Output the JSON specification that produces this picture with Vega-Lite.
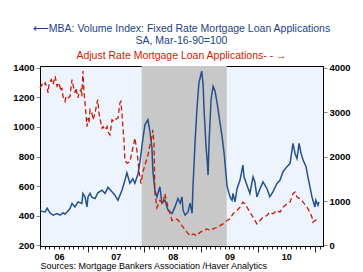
{
 "$schema": "https://vega.github.io/schema/vega-lite/v6.json",
 "width": 283,
 "height": 180,
 "autosize": {"type": "none"},
 "padding": {"left": 40, "top": 66, "right": 40, "bottom": 26},
 "background": "white",
 "config": {"view": {"fill": "#eef4fd", "stroke": "black", "strokeWidth": 1}, "font": "Liberation Sans"},
 "title": {
  "text": ["⟵MBA: Volume Index: Fixed Rate Mortgage Loan Applications", "SA, Mar-16-90=100"],
  "subtitle": "Adjust Rate Mortgage Loan Applications- - →",
  "color": "#1c3f86",
  "subtitleColor": "#cc1a00",
  "fontSize": 10.5,
  "subtitleFontSize": 10.5,
  "fontWeight": "normal",
  "font": "Liberation Sans",
  "subtitleFont": "Liberation Sans",
  "lineHeight": 12,
  "subtitleLineHeight": 12,
  "subtitlePadding": 5,
  "offset": 1,
  "anchor": "middle",
  "frame": "group"
 },
 "datasets": {
  "rec": [{"start": "2007-12-15", "end": "2009-06-14"}],
  "fixed": [
   {"date": "2006-03-01", "v": 437}, {"date": "2006-03-14", "v": 430}, {"date": "2006-04-03", "v": 426}, {"date": "2006-04-16", "v": 451},
   {"date": "2006-05-05", "v": 419}, {"date": "2006-05-24", "v": 404}, {"date": "2006-06-06", "v": 410}, {"date": "2006-06-19", "v": 415},
   {"date": "2006-07-08", "v": 404}, {"date": "2006-07-27", "v": 419}, {"date": "2006-08-09", "v": 412}, {"date": "2006-08-22", "v": 426},
   {"date": "2006-09-10", "v": 449}, {"date": "2006-09-23", "v": 483}, {"date": "2006-10-12", "v": 460}, {"date": "2006-10-31", "v": 494},
   {"date": "2006-11-25", "v": 483}, {"date": "2006-12-02", "v": 551}, {"date": "2006-12-15", "v": 528}, {"date": "2006-12-28", "v": 460},
   {"date": "2007-01-04", "v": 528}, {"date": "2007-01-17", "v": 551}, {"date": "2007-01-29", "v": 524}, {"date": "2007-02-18", "v": 517},
   {"date": "2007-03-08", "v": 555}, {"date": "2007-04-04", "v": 573}, {"date": "2007-04-23", "v": 551}, {"date": "2007-05-12", "v": 592},
   {"date": "2007-06-07", "v": 562}, {"date": "2007-06-26", "v": 539}, {"date": "2007-07-15", "v": 505}, {"date": "2007-08-10", "v": 573},
   {"date": "2007-08-29", "v": 640}, {"date": "2007-09-11", "v": 690}, {"date": "2007-09-30", "v": 620}, {"date": "2007-10-19", "v": 650},
   {"date": "2007-11-01", "v": 620}, {"date": "2007-11-21", "v": 680}, {"date": "2007-12-04", "v": 766}, {"date": "2007-12-23", "v": 924},
   {"date": "2008-01-05", "v": 1015}, {"date": "2008-01-24", "v": 1049}, {"date": "2008-02-06", "v": 969}, {"date": "2008-02-19", "v": 859},
   {"date": "2008-02-25", "v": 700}, {"date": "2008-03-09", "v": 573}, {"date": "2008-03-22", "v": 528}, {"date": "2008-04-10", "v": 596},
   {"date": "2008-04-23", "v": 485}, {"date": "2008-05-12", "v": 505}, {"date": "2008-06-01", "v": 438}, {"date": "2008-06-27", "v": 415},
   {"date": "2008-07-16", "v": 460}, {"date": "2008-08-04", "v": 517}, {"date": "2008-08-18", "v": 485}, {"date": "2008-08-30", "v": 528},
   {"date": "2008-09-06", "v": 438}, {"date": "2008-09-19", "v": 404}, {"date": "2008-10-08", "v": 426}, {"date": "2008-10-21", "v": 485},
   {"date": "2008-11-03", "v": 417}, {"date": "2008-11-09", "v": 600}, {"date": "2008-11-22", "v": 891}, {"date": "2008-12-04", "v": 1117},
   {"date": "2008-12-17", "v": 1298}, {"date": "2009-01-04", "v": 1377}, {"date": "2009-01-13", "v": 1286}, {"date": "2009-01-19", "v": 1117},
   {"date": "2009-02-01", "v": 867}, {"date": "2009-02-08", "v": 777}, {"date": "2009-02-14", "v": 675}, {"date": "2009-02-20", "v": 891},
   {"date": "2009-03-05", "v": 1184}, {"date": "2009-03-18", "v": 1275}, {"date": "2009-03-31", "v": 1241}, {"date": "2009-04-13", "v": 1162},
   {"date": "2009-05-02", "v": 1026}, {"date": "2009-05-15", "v": 935}, {"date": "2009-05-28", "v": 823}, {"date": "2009-06-16", "v": 600},
   {"date": "2009-07-05", "v": 528}, {"date": "2009-07-18", "v": 505}, {"date": "2009-07-24", "v": 551}, {"date": "2009-08-06", "v": 494},
   {"date": "2009-08-19", "v": 583}, {"date": "2009-09-07", "v": 640}, {"date": "2009-09-26", "v": 742}, {"date": "2009-10-03", "v": 663},
   {"date": "2009-10-22", "v": 607}, {"date": "2009-11-10", "v": 551}, {"date": "2009-11-30", "v": 663}, {"date": "2009-12-12", "v": 629},
   {"date": "2009-12-25", "v": 528}, {"date": "2010-01-14", "v": 583}, {"date": "2010-02-02", "v": 629}, {"date": "2010-02-28", "v": 583},
   {"date": "2010-03-18", "v": 528}, {"date": "2010-04-07", "v": 562}, {"date": "2010-05-03", "v": 619}, {"date": "2010-05-22", "v": 640},
   {"date": "2010-06-11", "v": 698}, {"date": "2010-07-06", "v": 732}, {"date": "2010-07-26", "v": 753}, {"date": "2010-08-08", "v": 845},
   {"date": "2010-08-14", "v": 889}, {"date": "2010-08-27", "v": 821}, {"date": "2010-09-09", "v": 787}, {"date": "2010-09-22", "v": 889},
   {"date": "2010-10-05", "v": 821}, {"date": "2010-10-18", "v": 777}, {"date": "2010-11-06", "v": 732}, {"date": "2010-11-18", "v": 663},
   {"date": "2010-12-01", "v": 596}, {"date": "2010-12-14", "v": 528}, {"date": "2010-12-20", "v": 505}, {"date": "2011-01-02", "v": 460},
   {"date": "2011-01-08", "v": 505}, {"date": "2011-01-21", "v": 471}, {"date": "2011-01-28", "v": 494}
  ],
  "arm": [
   {"date": "2006-03-01", "v": 3547}, {"date": "2006-03-14", "v": 3622}, {"date": "2006-03-21", "v": 3584}, {"date": "2006-04-03", "v": 3660},
   {"date": "2006-04-16", "v": 3547}, {"date": "2006-04-22", "v": 3434}, {"date": "2006-04-29", "v": 3660}, {"date": "2006-05-12", "v": 3735},
   {"date": "2006-05-24", "v": 3622}, {"date": "2006-06-06", "v": 3810}, {"date": "2006-06-19", "v": 3584}, {"date": "2006-07-01", "v": 3660},
   {"date": "2006-07-14", "v": 3470}, {"date": "2006-07-20", "v": 3547}, {"date": "2006-07-27", "v": 3357}, {"date": "2006-08-09", "v": 3243},
   {"date": "2006-08-15", "v": 3357}, {"date": "2006-08-28", "v": 3320}, {"date": "2006-09-10", "v": 3357}, {"date": "2006-09-23", "v": 3735},
   {"date": "2006-09-29", "v": 3622}, {"date": "2006-10-12", "v": 3434}, {"date": "2006-10-18", "v": 3547}, {"date": "2006-10-31", "v": 3320},
   {"date": "2006-11-06", "v": 3434}, {"date": "2006-11-19", "v": 3509}, {"date": "2006-11-25", "v": 3357}, {"date": "2006-12-02", "v": 3924},
   {"date": "2006-12-08", "v": 3509}, {"date": "2006-12-21", "v": 2980}, {"date": "2006-12-28", "v": 2676}, {"date": "2007-01-04", "v": 2867},
   {"date": "2007-01-10", "v": 2753}, {"date": "2007-01-17", "v": 3055}, {"date": "2007-01-29", "v": 2980}, {"date": "2007-02-05", "v": 2828},
   {"date": "2007-02-18", "v": 2980}, {"date": "2007-03-02", "v": 3207}, {"date": "2007-03-08", "v": 3282}, {"date": "2007-03-15", "v": 2980},
   {"date": "2007-03-21", "v": 2867}, {"date": "2007-04-04", "v": 2640}, {"date": "2007-04-10", "v": 2676}, {"date": "2007-04-23", "v": 2601},
   {"date": "2007-05-06", "v": 2676}, {"date": "2007-05-12", "v": 2563}, {"date": "2007-05-25", "v": 2488}, {"date": "2007-06-07", "v": 2828},
   {"date": "2007-06-20", "v": 2790}, {"date": "2007-07-02", "v": 2844}, {"date": "2007-07-15", "v": 2867}, {"date": "2007-07-28", "v": 3207},
   {"date": "2007-08-03", "v": 3243}, {"date": "2007-08-10", "v": 2980}, {"date": "2007-08-16", "v": 2676}, {"date": "2007-08-23", "v": 2375},
   {"date": "2007-08-29", "v": 1921}, {"date": "2007-09-11", "v": 1853}, {"date": "2007-09-30", "v": 1880}, {"date": "2007-10-13", "v": 2100},
   {"date": "2007-10-26", "v": 2300}, {"date": "2007-11-01", "v": 2420}, {"date": "2007-11-14", "v": 2150}, {"date": "2007-11-27", "v": 1700},
   {"date": "2007-12-10", "v": 1392}, {"date": "2007-12-23", "v": 1656}, {"date": "2008-01-05", "v": 1808}, {"date": "2008-01-24", "v": 2034},
   {"date": "2008-02-06", "v": 2261}, {"date": "2008-02-19", "v": 2450}, {"date": "2008-02-25", "v": 2601}, {"date": "2008-03-03", "v": 2300},
   {"date": "2008-03-09", "v": 1170}, {"date": "2008-03-22", "v": 850}, {"date": "2008-04-10", "v": 1014}, {"date": "2008-04-29", "v": 939},
   {"date": "2008-05-12", "v": 1166}, {"date": "2008-06-01", "v": 862}, {"date": "2008-06-27", "v": 560}, {"date": "2008-07-16", "v": 599},
   {"date": "2008-08-04", "v": 576}, {"date": "2008-08-30", "v": 447}, {"date": "2008-10-02", "v": 295}, {"date": "2008-10-21", "v": 220},
   {"date": "2008-11-09", "v": 258}, {"date": "2008-12-04", "v": 220}, {"date": "2008-12-24", "v": 295}, {"date": "2009-01-13", "v": 333},
   {"date": "2009-02-08", "v": 372}, {"date": "2009-02-27", "v": 333}, {"date": "2009-03-18", "v": 372}, {"date": "2009-04-13", "v": 408},
   {"date": "2009-05-02", "v": 447}, {"date": "2009-05-21", "v": 485}, {"date": "2009-06-16", "v": 560}, {"date": "2009-07-05", "v": 599},
   {"date": "2009-07-24", "v": 712}, {"date": "2009-08-19", "v": 787}, {"date": "2009-09-07", "v": 862}, {"date": "2009-09-26", "v": 975},
   {"date": "2009-10-09", "v": 939}, {"date": "2009-10-22", "v": 862}, {"date": "2009-11-10", "v": 748}, {"date": "2009-11-30", "v": 635},
   {"date": "2009-12-25", "v": 485}, {"date": "2010-01-14", "v": 560}, {"date": "2010-02-02", "v": 635}, {"date": "2010-02-28", "v": 674},
   {"date": "2010-03-18", "v": 748}, {"date": "2010-04-07", "v": 712}, {"date": "2010-05-03", "v": 787}, {"date": "2010-05-22", "v": 748},
   {"date": "2010-06-11", "v": 862}, {"date": "2010-07-06", "v": 939}, {"date": "2010-07-26", "v": 975}, {"date": "2010-08-14", "v": 1166},
   {"date": "2010-08-27", "v": 1202}, {"date": "2010-09-09", "v": 1089}, {"date": "2010-09-28", "v": 1052}, {"date": "2010-10-18", "v": 975},
   {"date": "2010-11-12", "v": 862}, {"date": "2010-12-01", "v": 748}, {"date": "2010-12-14", "v": 635}, {"date": "2010-12-20", "v": 522},
   {"date": "2011-01-02", "v": 560}, {"date": "2011-01-15", "v": 576}, {"date": "2011-01-28", "v": 599}
  ]
 },
 "layer": [
  {
   "data": {"name": "rec"},
   "mark": {"type": "rect", "color": "#c8c8c8"},
   "encoding": {
    "x": {
     "field": "start", "type": "temporal",
     "scale": {"domain": [{"year": 2006, "month": 3, "date": 1}, {"year": 2011, "month": 2, "date": 23}]},
     "axis": {
      "orient": "bottom",
      "values": [
       {"year": 2006, "month": 3, "date": 1}, {"year": 2006, "month": 4, "date": 1}, {"year": 2006, "month": 5, "date": 1}, {"year": 2006, "month": 6, "date": 1},
       {"year": 2006, "month": 7, "date": 1}, {"year": 2006, "month": 8, "date": 1}, {"year": 2006, "month": 9, "date": 1}, {"year": 2006, "month": 10, "date": 1},
       {"year": 2006, "month": 11, "date": 1}, {"year": 2006, "month": 12, "date": 1},
       {"year": 2007, "month": 1, "date": 1}, {"year": 2007, "month": 2, "date": 1}, {"year": 2007, "month": 3, "date": 1}, {"year": 2007, "month": 4, "date": 1},
       {"year": 2007, "month": 5, "date": 1}, {"year": 2007, "month": 6, "date": 1}, {"year": 2007, "month": 7, "date": 1}, {"year": 2007, "month": 8, "date": 1},
       {"year": 2007, "month": 9, "date": 1}, {"year": 2007, "month": 10, "date": 1}, {"year": 2007, "month": 11, "date": 1}, {"year": 2007, "month": 12, "date": 1},
       {"year": 2008, "month": 1, "date": 1}, {"year": 2008, "month": 2, "date": 1}, {"year": 2008, "month": 3, "date": 1}, {"year": 2008, "month": 4, "date": 1},
       {"year": 2008, "month": 5, "date": 1}, {"year": 2008, "month": 6, "date": 1}, {"year": 2008, "month": 7, "date": 1}, {"year": 2008, "month": 8, "date": 1},
       {"year": 2008, "month": 9, "date": 1}, {"year": 2008, "month": 10, "date": 1}, {"year": 2008, "month": 11, "date": 1}, {"year": 2008, "month": 12, "date": 1},
       {"year": 2009, "month": 1, "date": 1}, {"year": 2009, "month": 2, "date": 1}, {"year": 2009, "month": 3, "date": 1}, {"year": 2009, "month": 4, "date": 1},
       {"year": 2009, "month": 5, "date": 1}, {"year": 2009, "month": 6, "date": 1}, {"year": 2009, "month": 7, "date": 1}, {"year": 2009, "month": 8, "date": 1},
       {"year": 2009, "month": 9, "date": 1}, {"year": 2009, "month": 10, "date": 1}, {"year": 2009, "month": 11, "date": 1}, {"year": 2009, "month": 12, "date": 1},
       {"year": 2010, "month": 1, "date": 1}, {"year": 2010, "month": 2, "date": 1}, {"year": 2010, "month": 3, "date": 1}, {"year": 2010, "month": 4, "date": 1},
       {"year": 2010, "month": 5, "date": 1}, {"year": 2010, "month": 6, "date": 1}, {"year": 2010, "month": 7, "date": 1}, {"year": 2010, "month": 8, "date": 1},
       {"year": 2010, "month": 9, "date": 1}, {"year": 2010, "month": 10, "date": 1}, {"year": 2010, "month": 11, "date": 1}, {"year": 2010, "month": 12, "date": 1},
       {"year": 2011, "month": 1, "date": 1}, {"year": 2011, "month": 2, "date": 1}
      ],
      "labels": false,
      "tickSize": {"condition": {"test": "month(datum.value) == 0", "value": 6}, "value": 3},
      "tickColor": "#222",
      "domainColor": "black",
      "grid": false,
      "title": null
     }
    },
    "x2": {"field": "end"}
   }
  },
  {
   "data": {"name": "fixed"},
   "mark": {"type": "line", "color": "#24508f", "strokeWidth": 1.5},
   "encoding": {
    "x": {
     "field": "date", "type": "temporal",
     "axis": {
      "orient": "bottom",
      "values": [
       {"year": 2006, "month": 7, "date": 1}, {"year": 2007, "month": 7, "date": 1}, {"year": 2008, "month": 7, "date": 1},
       {"year": 2009, "month": 7, "date": 1}, {"year": 2010, "month": 7, "date": 1}
      ],
      "format": "%y",
      "ticks": false,
      "tickSize": 0,
      "domain": false,
      "grid": false,
      "labelFontWeight": "bold",
      "labelFontSize": 9,
      "labelColor": "black",
      "labelPadding": 6,
      "labelOverlap": false,
      "labelFlush": false,
      "title": "Sources:  Mortgage Bankers Association /Haver Analytics",
      "titleAnchor": "start",
      "titleFontWeight": "normal",
      "titleFontSize": 9,
      "titleColor": "black",
      "titlePadding": 0
     }
    },
    "y": {
     "field": "v", "type": "quantitative",
     "scale": {"domain": [196, 1412], "nice": false, "zero": false},
     "axis": {"orient": "left", "values": [200, 400, 600, 800, 1000, 1200, 1400], "format": "d", "grid": false, "title": null,
      "labelFontWeight": "bold", "labelFontSize": 9.5, "labelColor": "black", "tickSize": 4, "labelPadding": 2,
      "domainColor": "black", "tickColor": "#888"}
    }
   }
  },
  {
   "data": {"name": "arm"},
   "mark": {"type": "line", "color": "#cc1a00", "strokeWidth": 1.3, "strokeDash": [5, 3]},
   "encoding": {
    "x": {"field": "date", "type": "temporal", "axis": null},
    "y": {
     "field": "v", "type": "quantitative",
     "scale": {"domain": [-13, 4040], "nice": false, "zero": false},
     "axis": {"orient": "right", "values": [0, 1000, 2000, 3000, 4000], "format": "d", "grid": false, "title": null,
      "labelFontWeight": "bold", "labelFontSize": 9.5, "labelColor": "black", "tickSize": 4, "labelPadding": 2,
      "domainColor": "black", "tickColor": "#888"}
    }
   }
  }
 ],
 "resolve": {"scale": {"y": "independent"}, "axis": {"y": "independent", "x": "independent"}}
}
